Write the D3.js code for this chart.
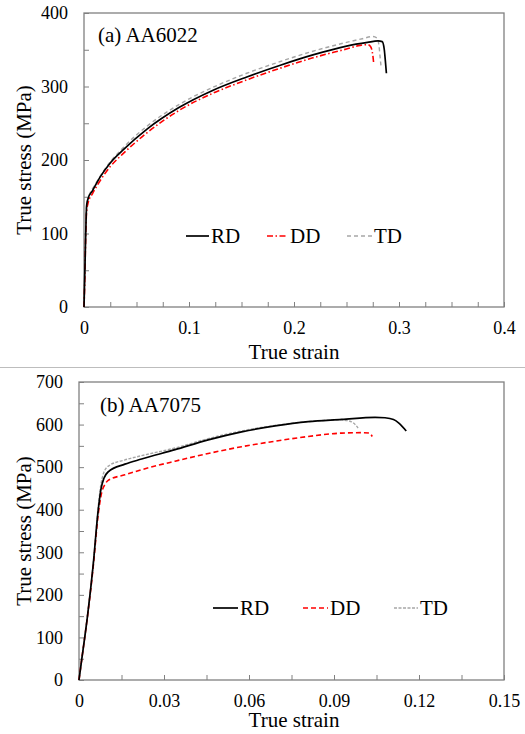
<!DOCTYPE html>
<html>
<head>
<meta charset="utf-8">
<script src="https://cdn.jsdelivr.net/npm/d3@7"></script>
<style>
  body { margin: 0; background: #fff; }
  svg text { font-family: 'Liberation Serif', 'Times New Roman', serif; fill: #000; }
</style>
</head>
<body>
<svg width="525" height="734"></svg>
<script>
// (a) AA6022 curves: [true strain, true stress MPa]
var rd6022 = [[0,0],[0.001,60],[0.002,120],[0.0025,138],[0.004,148],[0.008,158],[0.015,176],[0.025,196],[0.0375,214],[0.06,242],[0.09,271],[0.123,295],[0.155,313],[0.187,329],[0.218,343],[0.25,355],[0.27,360],[0.28,362],[0.284,361],[0.286,350],[0.287,335],[0.288,318]];
var dd6022 = [[0,0],[0.0008,40],[0.0015,90],[0.0025,130],[0.004,142],[0.008,154],[0.015,171],[0.025,191],[0.0375,209],[0.06,237],[0.09,267],[0.123,291],[0.155,309],[0.187,325],[0.218,339],[0.25,351],[0.263,356],[0.27,357],[0.273,354],[0.275,343],[0.276,330]];
var td6022 = [[0,0],[0.001,60],[0.002,125],[0.0028,140],[0.005,152],[0.01,165],[0.02,188],[0.0375,217],[0.06,246],[0.09,275],[0.123,299],[0.155,318],[0.187,334],[0.218,348],[0.25,360],[0.265,365],[0.275,368],[0.279,366],[0.281,355],[0.282,340],[0.283,326]];

// (b) AA7075 curves
var rd7075 = [[0,0],[0.001,50],[0.003,150],[0.005,270],[0.0068,400],[0.0078,450],[0.0088,474],[0.0103,489],[0.0162,507],[0.0221,519],[0.0339,541],[0.0456,564],[0.0574,583],[0.0692,597],[0.0809,607],[0.0927,612],[0.1045,617],[0.108,616],[0.111,612],[0.113,603],[0.1155,585]];
var dd7075 = [[0,0],[0.001,50],[0.003,150],[0.005,265],[0.0068,390],[0.008,440],[0.0092,460],[0.0103,469],[0.0162,482],[0.0221,494],[0.0339,514],[0.0456,532],[0.0574,548],[0.0692,561],[0.0809,572],[0.0927,580],[0.1,581],[0.1025,580],[0.1035,572]];
var td7075 = [[0,0],[0.001,50],[0.003,150],[0.005,272],[0.0068,408],[0.0078,462],[0.0088,488],[0.0105,503],[0.0162,517],[0.0221,527],[0.0339,545],[0.0456,567],[0.0574,585],[0.0692,598],[0.0809,607],[0.0915,611],[0.095,609],[0.097,603],[0.0985,592]];

var seriesNames = ['RD', 'DD', 'TD'];

var xTicks6022 = [0, 0.1, 0.2, 0.3, 0.4];
var yTicks6022 = [0, 100, 200, 300, 400];
var xTicks7075 = [0, 0.03, 0.06, 0.09, 0.12, 0.15];
var yTicks7075 = [0, 100, 200, 300, 400, 500, 600, 700];

var svg = d3.select('svg');

// separator between the two panels
svg.append('line')
  .attr('x1', 0).attr('x2', 525)
  .attr('y1', 367.5).attr('y2', 367.5)
  .style('stroke', '#bdbdbd').style('stroke-width', 1.2);

var panels = [
  {
    title: '(a) AA6022', box: { l: 84, r: 504, t: 13, b: 307 },
    xDomain: [0, 0.4], yDomain: [0, 400], xStep: 0.025, yStep: 50,
    xTicks: xTicks6022, yTicks: yTicks6022, xFmt: d3.format('~g'),
    series: [rd6022, dd6022, td6022],
    dashes: [null, '6,2.5,1.5,2.5', '4,3'],
    legend: { y: 236, items: [[186, 209], [267, 288], [347, 372]] },
    titlePos: [98, 42], xLabelY: 359, yLabelX: 31
  },
  {
    title: '(b) AA7075', box: { l: 79, r: 504, t: 382, b: 680 },
    xDomain: [0, 0.15], yDomain: [0, 700], xStep: 0.015, yStep: 50,
    xTicks: xTicks7075, yTicks: yTicks7075, xFmt: d3.format('~g'),
    series: [rd7075, dd7075, td7075],
    dashes: [null, '5,3', '3,1.5'],
    legend: { y: 608, items: [[213, 238], [303, 328], [394, 418]] },
    titlePos: [100, 412], xLabelY: 727, yLabelX: 31
  }
];

var colors = ['#000000', '#ff0000', '#a6a6a6'];
var widths = [1.7, 1.6, 1.4];

panels.forEach(function(p) {
  var b = p.box;
  var x = d3.scaleLinear().domain(p.xDomain).range([b.l, b.r]);
  var y = d3.scaleLinear().domain(p.yDomain).range([b.b, b.t]);

  var xAll = d3.range(p.xDomain[0], p.xDomain[1] + p.xStep / 2, p.xStep);
  var yAll = d3.range(p.yDomain[0], p.yDomain[1] + p.yStep / 2, p.yStep);
  var isMajor = function(v, list) {
    return list.some(function(t) { return Math.abs(t - v) < 1e-9; });
  };

  var xAxisG = svg.append('g')
    .attr('class', 'axis')
    .attr('transform', 'translate(0,' + b.b + ')')
    .call(d3.axisBottom(x).tickValues(xAll).tickSizeInner(-5).tickSizeOuter(0).tickPadding(14)
      .tickFormat(function(d) { return isMajor(d, p.xTicks) ? p.xFmt(+d.toFixed(4)) : ''; }));
  var yAxisG = svg.append('g')
    .attr('class', 'axis')
    .attr('transform', 'translate(' + b.l + ',0)')
    .call(d3.axisLeft(y).tickValues(yAll).tickSizeInner(-5).tickSizeOuter(0).tickPadding(16)
      .tickFormat(function(d) { return isMajor(d, p.yTicks) ? d : ''; }));

  [xAxisG, yAxisG].forEach(function(g) {
    g.select('.domain').remove();
    g.selectAll('line').style('stroke', '#808080').style('stroke-width', 1);
    g.selectAll('text').style('font-size', '18px').style('fill', '#000')
      .style('font-family', "'Liberation Serif', serif");
  });

  // frame
  svg.append('rect')
    .attr('x', b.l).attr('y', b.t)
    .attr('width', b.r - b.l).attr('height', b.b - b.t)
    .style('fill', 'none').style('stroke', '#808080').style('stroke-width', 1.3);

  var line = d3.line()
    .x(function(d) { return x(d[0]); })
    .y(function(d) { return y(d[1]); })
    .curve(d3.curveMonotoneX);

  // draw TD first, then DD, RD on top
  [2, 1, 0].forEach(function(i) {
    svg.append('path')
      .datum(p.series[i])
      .attr('d', line)
      .style('fill', 'none')
      .style('stroke', colors[i])
      .style('stroke-width', widths[i])
      .style('stroke-dasharray', p.dashes[i]);
  });

  // title inside panel
  svg.append('text')
    .attr('x', p.titlePos[0]).attr('y', p.titlePos[1])
    .style('font-size', '21px')
    .text(p.title);

  // legend
  p.legend.items.forEach(function(it, i) {
    svg.append('line')
      .attr('x1', it[0]).attr('x2', it[1])
      .attr('y1', p.legend.y).attr('y2', p.legend.y)
      .style('stroke', colors[i])
      .style('stroke-width', widths[i])
      .style('stroke-dasharray', p.dashes[i]);
    svg.append('text')
      .attr('x', it[1] + 2).attr('y', p.legend.y + 7)
      .style('font-size', '21px')
      .text(seriesNames[i]);
  });

  // axis titles
  svg.append('text')
    .attr('x', 294).attr('y', p.xLabelY)
    .attr('text-anchor', 'middle')
    .style('font-size', '21px')
    .text('True strain');
  svg.append('text')
    .attr('transform', 'translate(' + p.yLabelX + ',' + (b.t + b.b) / 2 + ') rotate(-90)')
    .attr('text-anchor', 'middle')
    .style('font-size', '21px')
    .text('True stress (MPa)');
});
</script>
</body>
</html>
